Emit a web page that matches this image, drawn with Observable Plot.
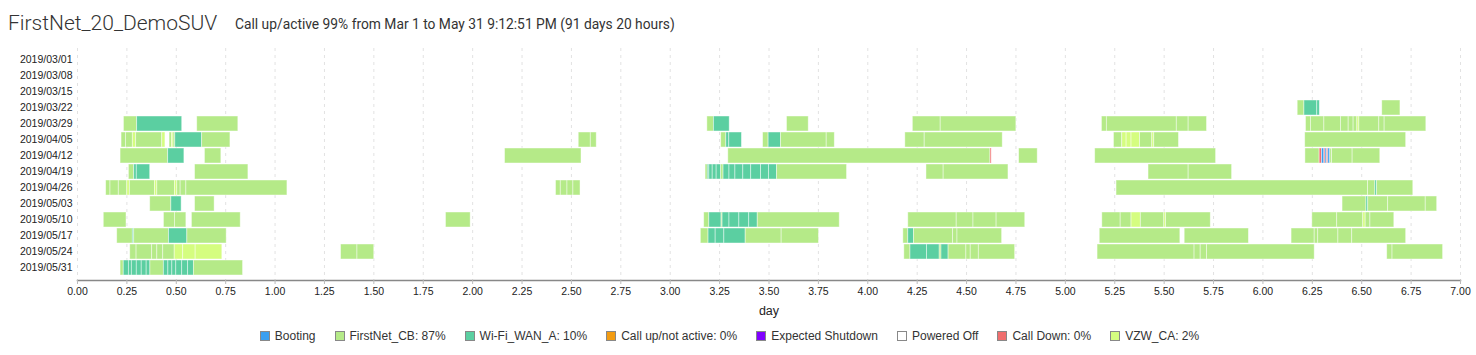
<!DOCTYPE html>
<html><head><meta charset="utf-8">
<script src="https://cdn.jsdelivr.net/npm/d3@7"></script>
<script src="https://cdn.jsdelivr.net/npm/@observablehq/plot@0.6"></script>
<style>
body{margin:0;background:#fff;width:1476px;height:355px;overflow:hidden;font-family:"Liberation Sans",Arial,sans-serif;position:relative;}
#title{position:absolute;left:8px;top:13px;font-family:Roboto;font-weight:300;font-size:21px;line-height:21px;color:#333;white-space:nowrap;}
#subtitle{position:absolute;left:235px;top:17px;font-family:Roboto;font-size:13.8px;line-height:15px;color:#333;white-space:nowrap;}
#chart{position:absolute;left:0;top:40px;}
#legend{position:absolute;top:329px;left:0;width:1476px;display:flex;justify-content:center;gap:19px;font-size:12px;color:#333;padding-right:17px;box-sizing:border-box;}
.item{display:flex;align-items:center;white-space:nowrap;}
.sw{width:8px;height:8px;border:1px solid #888;margin-right:5px;}
</style></head>
<body>
<div id="title">FirstNet_20_DemoSUV</div>
<div id="subtitle">Call up/active 99% from Mar 1 to May 31 9:12:51 PM (91 days 20 hours)</div>
<div id="chart"></div>
<div id="legend"></div>
<script>
const weeks = ["2019/03/01","2019/03/08","2019/03/15","2019/03/22","2019/03/29","2019/04/05","2019/04/12","2019/04/19","2019/04/26","2019/05/03","2019/05/10","2019/05/17","2019/05/24","2019/05/31"];
const statusCodes = ["B","F","W","U","S","P","D","V"];
const statusNames = ["Booting","FirstNet_CB","Wi-Fi_WAN_A","Call up/not active","Expected Shutdown","Powered Off","Call Down","VZW_CA"];
const legendLabels = ["Booting","FirstNet_CB: 87%","Wi-Fi_WAN_A: 10%","Call up/not active: 0%","Expected Shutdown","Powered Off","Call Down: 0%","VZW_CA: 2%"];
const statusColors = ["#3a9ff0","#b5ea88","#5bcfa1","#f39c12","#8000ff","#ffffff","#f06e6e","#d5fd80"];
const dayTicks = [0,0.25,0.5,0.75,1,1.25,1.5,1.75,2,2.25,2.5,2.75,3,3.25,3.5,3.75,4,4.25,4.5,4.75,5,5.25,5.5,5.75,6,6.25,6.5,6.75,7];

// segments per week: [start day, end day, status code]
const w0301 = [];
const w0308 = [];
const w0315 = [];
const w0322 = [[6.176,6.21,"F"],[6.21,6.275,"W"],[6.275,6.288,"W"],[6.604,6.696,"F"]];
const w0329 = [[0.235,0.302,"F"],[0.302,0.530,"W"],[0.606,0.814,"F"],
 [3.188,3.221,"F"],[3.221,3.301,"W"],[3.591,3.701,"F"],
 [4.228,4.369,"F"],[4.369,4.752,"F"],
 [5.185,5.21,"F"],[5.21,5.564,"F"],[5.564,5.624,"F"],[5.624,5.717,"F"],
 [6.218,6.243,"F"],[6.243,6.311,"F"],[6.311,6.395,"F"],[6.395,6.434,"F"],[6.434,6.459,"F"],[6.459,6.478,"F"],[6.478,6.488,"V"],[6.488,6.589,"F"],[6.589,6.616,"F"],[6.616,6.827,"F"]];
const w0405 = [[0.223,0.245,"F"],[0.245,0.28,"F"],[0.28,0.297,"V"],[0.297,0.429,"F"],[0.429,0.445,"V"],[0.466,0.478,"F"],[0.478,0.486,"V"],[0.486,0.495,"F"],[0.495,0.631,"W"],[0.631,0.774,"F"],
 [2.537,2.598,"F"],[2.598,2.628,"F"],
 [3.258,3.284,"F"],[3.284,3.299,"W"],[3.299,3.363,"W"],
 [3.47,3.498,"F"],[3.498,3.561,"W"],[3.561,3.792,"F"],[3.792,3.833,"F"],
 [4.19,4.288,"F"],[4.288,4.683,"F"],
 [5.246,5.288,"F"],[5.288,5.31,"V"],[5.31,5.335,"V"],[5.335,5.378,"V"],[5.378,5.44,"F"],[5.44,5.45,"V"],[5.45,5.575,"F"],
 [6.214,6.725,"F"]];
const w0412 = [[0.218,0.459,"F"],[0.459,0.541,"W"],[0.645,0.728,"F"],
 [2.164,2.551,"F"],
 [3.294,4.621,"F"],[4.621,4.627,"D"],
 [4.766,4.86,"F"],
 [5.151,5.763,"F"],
 [6.215,6.287,"F"],[6.287,6.299,"D"],[6.299,6.311,"B"],[6.311,6.317,"D"],[6.317,6.324,"B"],[6.324,6.331,"D"],[6.331,6.341,"B"],[6.341,6.35,"F"],[6.35,6.454,"F"],[6.454,6.594,"F"]];
const w0419 = [[0.26,0.287,"F"],[0.287,0.3,"W"],[0.3,0.368,"W"],[0.595,0.865,"F"],
 [3.179,3.19,"F"],[3.19,3.198,"W"],[3.198,3.215,"W"],[3.215,3.235,"W"],[3.235,3.258,"W"],[3.258,3.27,"F"],[3.27,3.3,"W"],[3.3,3.33,"W"],[3.33,3.37,"W"],[3.37,3.41,"W"],[3.41,3.46,"W"],[3.46,3.5,"W"],[3.5,3.541,"W"],[3.541,3.895,"F"],
 [4.297,4.384,"F"],[4.384,4.712,"F"],
 [5.421,5.624,"F"],[5.624,5.844,"F"]];
const w0426 = [[0.145,0.167,"F"],[0.167,0.209,"F"],[0.209,0.252,"F"],[0.252,0.265,"V"],[0.265,0.392,"F"],[0.392,0.404,"V"],[0.404,0.493,"F"],[0.493,0.505,"V"],[0.505,0.522,"F"],[0.522,0.551,"F"],[0.551,1.0625,"F"],
 [2.422,2.446,"F"],[2.446,2.48,"F"],[2.48,2.51,"F"],[2.51,2.546,"F"],
 [5.259,6.532,"F"],[6.532,6.569,"F"],[6.569,6.578,"W"],[6.578,6.761,"F"]];
const w0503 = [[0.368,0.475,"F"],[0.475,0.527,"W"],[0.595,0.694,"F"],
 [6.403,6.524,"F"],[6.524,6.533,"W"],[6.533,6.634,"F"],[6.634,6.824,"F"],[6.824,6.882,"F"]];
const w0510 = [[0.133,0.248,"F"],[0.4375,0.493,"F"],[0.493,0.551,"F"],[0.579,0.826,"F"],
 [1.865,1.99,"F"],
 [3.172,3.198,"F"],[3.198,3.26,"W"],[3.26,3.265,"F"],[3.265,3.3,"W"],[3.3,3.35,"W"],[3.35,3.4,"W"],[3.4,3.443,"W"],[3.443,3.858,"F"],
 [4.205,4.45,"F"],[4.45,4.535,"F"],[4.535,4.652,"F"],[4.652,4.797,"F"],
 [5.187,5.28,"F"],[5.28,5.335,"F"],[5.335,5.382,"V"],[5.382,5.501,"F"],[5.501,5.51,"V"],[5.51,5.736,"F"],
 [6.25,6.376,"F"],[6.376,6.508,"F"],[6.508,6.52,"V"],[6.52,6.544,"F"],[6.544,6.665,"F"]];
const w0517 = [[0.201,0.28,"F"],[0.28,0.287,"W"],[0.287,0.463,"F"],[0.463,0.556,"W"],[0.556,0.755,"F"],
 [3.155,3.194,"F"],[3.194,3.23,"W"],[3.23,3.274,"W"],[3.274,3.382,"W"],[3.382,3.564,"F"],[3.564,3.753,"F"],
 [4.18,4.205,"F"],[4.205,4.234,"W"],[4.234,4.432,"F"],[4.432,4.454,"F"],[4.454,4.68,"F"],
 [5.174,5.582,"F"],[5.604,5.929,"F"],
 [6.145,6.262,"F"],[6.262,6.28,"F"],[6.28,6.382,"F"],[6.382,6.452,"F"],[6.452,6.725,"F"]];
const w0524 = [[0.267,0.299,"F"],[0.299,0.378,"F"],[0.378,0.404,"F"],[0.404,0.434,"F"],[0.434,0.492,"F"],[0.492,0.535,"V"],[0.535,0.598,"V"],[0.598,0.733,"V"],
 [1.334,1.417,"F"],[1.417,1.502,"F"],
 [4.185,4.216,"F"],[4.216,4.3,"W"],[4.3,4.364,"W"],[4.364,4.373,"F"],[4.373,4.409,"W"],[4.409,4.499,"F"],[4.499,4.521,"F"],[4.521,4.562,"F"],[4.562,4.746,"F"],
 [5.163,5.654,"F"],[5.654,5.685,"F"],[5.685,5.717,"F"],[5.717,6.262,"F"],
 [6.629,6.656,"F"],[6.656,6.912,"F"]];
const w0531 = [[0.218,0.234,"F"],[0.234,0.26,"W"],[0.26,0.275,"W"],[0.275,0.3,"W"],[0.3,0.325,"W"],[0.325,0.35,"W"],[0.35,0.369,"W"],[0.369,0.437,"F"],[0.437,0.46,"W"],[0.46,0.48,"W"],[0.48,0.5,"W"],[0.5,0.53,"W"],[0.53,0.56,"W"],[0.56,0.589,"W"],[0.589,0.838,"F"]];

const perWeek = [w0301,w0308,w0315,w0322,w0329,w0405,w0412,w0419,w0426,w0503,w0510,w0517,w0524,w0531];
const segments = perWeek.flatMap((segs, i) => segs.map(([s, e, c]) => ({
  week: weeks[i], start: s, end: e, status: statusNames[statusCodes.indexOf(c)]
})));

const chart = Plot.plot({
  width: 1476, height: 280,
  marginLeft: 77, marginRight: 16, marginTop: 8, marginBottom: 40,
  style: {fontFamily: "'Liberation Sans', Arial, sans-serif", fontSize: "10.5px", color: "#222", background: "transparent"},
  x: {domain: [0, 7], ticks: dayTicks, tickFormat: d => d.toFixed(2), label: "day", labelAnchor: "center", labelArrow: "none", labelOffset: 34},
  y: {domain: weeks, paddingInner: 0.06, paddingOuter: 0.03, label: null},
  color: {domain: statusNames, range: statusColors},
  marks: [
    Plot.ruleX(dayTicks, {x: d => d, stroke: "#e2e2e2", strokeDasharray: "3,4", strokeWidth: 1}),
    Plot.barX(segments, {x1: "start", x2: "end", y: "week", fill: "status", stroke: "white", strokeOpacity: 0.55, strokeWidth: 0.8}),
    Plot.frame({anchor: "bottom", stroke: "#888", strokeWidth: 1.5}),
    Plot.axisX({ticks: dayTicks, tickSize: 4, stroke: "#bbb", tickPadding: 3, tickFormat: d => d.toFixed(2), label: "day", labelAnchor: "center", labelArrow: "none", labelOffset: 34, fontSize: 10.5}),
    Plot.axisY({tickSize: 0, tickPadding: 5, label: null})
  ]
});
d3.select(chart).selectAll("[aria-label='x-axis label'] text").style("font-size", "12.5px");
document.getElementById("chart").appendChild(chart);

const legend = d3.select("#legend");
legendLabels.forEach((lab, i) => {
  const it = legend.append("div").attr("class", "item");
  it.append("div").attr("class", "sw").style("background", statusColors[i]);
  it.append("span").text(lab);
});
</script>
</body></html>
